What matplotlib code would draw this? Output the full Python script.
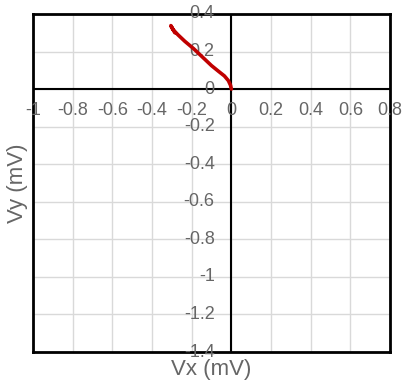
import matplotlib
matplotlib.use("Agg")
import matplotlib.pyplot as plt

# trace data (mV)
vx = [0.0, -0.004, -0.015, -0.035, -0.065, -0.10, -0.145, -0.19, -0.235, -0.27, -0.295, -0.305, -0.298, -0.285]
vy = [0.0, 0.02, 0.045, 0.07, 0.095, 0.125, 0.17, 0.215, 0.255, 0.29, 0.318, 0.338, 0.325, 0.30]

x_ticks = [-1, -0.8, -0.6, -0.4, -0.2, 0, 0.2, 0.4, 0.6, 0.8]
y_ticks = [0.4, 0.2, 0, -0.2, -0.4, -0.6, -0.8, -1, -1.2, -1.4]

plt.rcParams['font.family'] = ['Liberation Sans', 'DejaVu Sans']
txt_col = '#666666'

fig = plt.figure(figsize=(4.05, 3.85), dpi=100)
ax = fig.add_axes([0.0815, 0.0857, 0.8815, 0.878])

ax.set_xlim(-1, 0.8)
ax.set_ylim(-1.4, 0.4)

# grid
for t in x_ticks:
    ax.axvline(t, color='#d9d9d9', lw=1, zorder=0)
for t in y_ticks:
    ax.axhline(t, color='#d9d9d9', lw=1, zorder=0)

# zero axes
ax.axhline(0, color='black', lw=1.5, zorder=2)
ax.axvline(0, color='black', lw=1.5, zorder=2)

for s in ax.spines.values():
    s.set_color('black')
    s.set_linewidth(2)
ax.set_xticks([])
ax.set_yticks([])

def fmt(v):
    return f"{v:g}"

# tick labels next to zero axes
for t in x_ticks:
    ax.annotate(fmt(t), (t, 0), xytext=(0, -15.5), textcoords='offset points',
                ha='center', va='center', fontsize=13, color=txt_col, zorder=3,
                annotation_clip=False)
for t in y_ticks:
    ax.annotate(fmt(t), (0, t), xytext=(-12, 0), textcoords='offset points',
                ha='right', va='center', fontsize=13, color=txt_col, zorder=3,
                annotation_clip=False)

ax.plot(vx, vy, color='#c00000', lw=2.6, solid_capstyle='round', zorder=4)

fig.text(0.522, 0.039, 'Vx (mV)', ha='center', va='center', fontsize=16, color=txt_col)
fig.text(0.044, 0.525, 'Vy (mV)', ha='center', va='center', fontsize=16, color=txt_col,
         rotation=90)

fig.savefig('out.png', dpi=100)
